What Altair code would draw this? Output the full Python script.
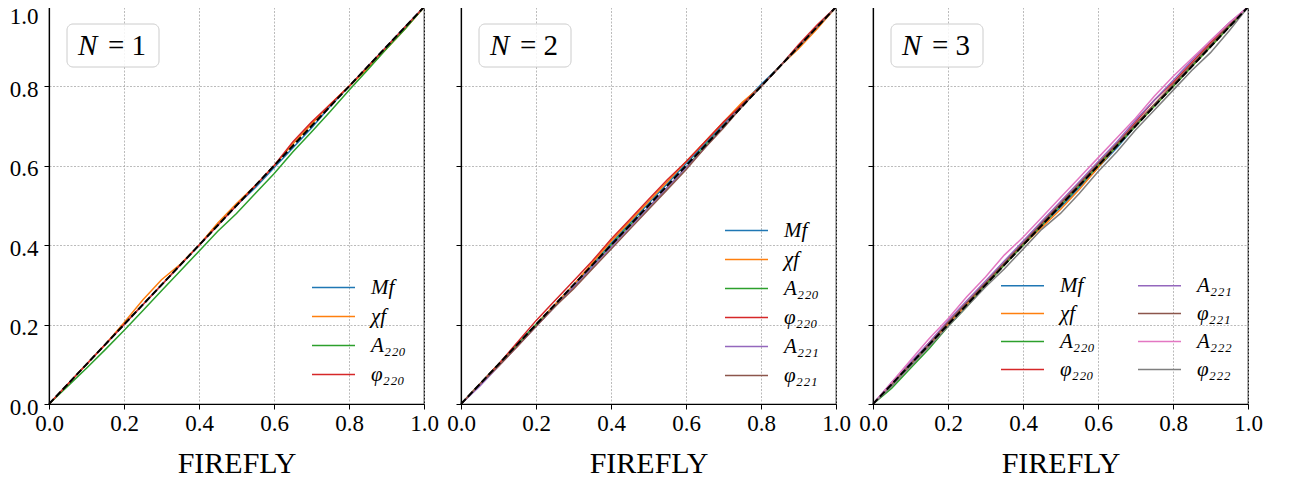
import altair as alt
import pandas as pd

# ---------------- data ----------------
x_grid = [0.00, 0.05, 0.10, 0.15, 0.20, 0.25, 0.30, 0.35, 0.40, 0.45, 0.50,
          0.55, 0.60, 0.65, 0.70, 0.75, 0.80, 0.85, 0.90, 0.95, 1.00]

# N = 1
n1_Mf    = [0, .050, .100, .150, .200, .250, .300, .350, .400, .450, .500, .545, .595, .645, .695, .750, .800, .850, .900, .950, 1]
n1_chi   = [0, .050, .100, .150, .205, .262, .313, .352, .400, .456, .505, .550, .600, .655, .705, .755, .800, .845, .895, .945, 1]
n1_A220  = [0, .045, .090, .137, .185, .235, .285, .335, .385, .435, .480, .530, .580, .635, .685, .737, .790, .842, .895, .945, 1]
n1_phi220= [0, .050, .100, .150, .200, .250, .300, .350, .400, .450, .500, .550, .600, .660, .710, .755, .800, .850, .900, .950, 1]

# N = 2
n2_Mf    = [0, .050, .100, .150, .200, .250, .300, .350, .405, .455, .505, .555, .605, .655, .705, .755, .805, .850, .900, .950, 1]
n2_chi   = [0, .050, .100, .145, .200, .250, .300, .355, .410, .460, .510, .560, .610, .660, .710, .760, .800, .850, .895, .945, 1]
n2_A220  = [0, .050, .100, .150, .200, .245, .295, .345, .400, .450, .495, .545, .595, .650, .700, .750, .800, .850, .900, .950, 1]
n2_phi220= [0, .050, .100, .155, .210, .260, .310, .360, .415, .465, .515, .565, .610, .660, .710, .755, .800, .850, .905, .955, 1]
n2_A221  = [0, .045, .095, .145, .195, .245, .295, .345, .395, .445, .495, .545, .595, .645, .700, .750, .800, .850, .900, .950, 1]
n2_phi221= [0, .050, .095, .145, .195, .245, .290, .340, .390, .440, .490, .540, .590, .645, .695, .750, .800, .850, .900, .950, 1]

# N = 3
n3_Mf    = [0, .050, .100, .150, .200, .250, .300, .350, .400, .450, .495, .545, .595, .645, .700, .750, .800, .850, .900, .950, 1]
n3_chi   = [0, .050, .100, .150, .200, .250, .300, .350, .400, .445, .490, .540, .595, .650, .700, .750, .800, .850, .900, .950, 1]
n3_A220  = [0, .040, .090, .140, .195, .245, .300, .350, .400, .450, .500, .550, .600, .650, .700, .750, .800, .850, .900, .950, 1]
n3_phi220= [0, .050, .100, .155, .205, .255, .305, .355, .405, .455, .505, .555, .605, .655, .710, .765, .810, .860, .910, .955, 1]
n3_A221  = [0, .055, .105, .155, .210, .260, .310, .360, .410, .460, .510, .560, .610, .660, .715, .765, .815, .865, .915, .960, 1]
n3_phi221= [0, .050, .100, .150, .205, .255, .305, .355, .405, .455, .505, .555, .605, .655, .705, .755, .805, .855, .905, .955, 1]
n3_A222  = [0, .055, .110, .165, .215, .270, .320, .375, .420, .470, .520, .570, .620, .670, .720, .775, .825, .870, .915, .960, 1]
n3_phi222= [0, .045, .095, .145, .195, .245, .295, .340, .390, .440, .480, .530, .585, .635, .690, .740, .790, .840, .885, .940, 1]

diag_x = [0.0, 1.0]
diag_y = [0.0, 1.0]

labels = ["Mf", "χf", "A₂₂₀", "φ₂₂₀", "A₂₂₁", "φ₂₂₁", "A₂₂₂", "φ₂₂₂"]
colors = ["#1f77b4", "#ff7f0e", "#2ca02c", "#d62728", "#9467bd", "#8c564b", "#e377c2", "#7f7f7f"]

panels = [
    ("1", [n1_Mf, n1_chi, n1_A220, n1_phi220]),
    ("2", [n2_Mf, n2_chi, n2_A220, n2_phi220, n2_A221, n2_phi221]),
    ("3", [n3_Mf, n3_chi, n3_A220, n3_phi220, n3_A221, n3_phi221, n3_A222, n3_phi222]),
]

FONT = "Liberation Serif"
W, H = 375, 397
TICKS = [0, 0.2, 0.4, 0.6, 0.8, 1.0]


def make_panel(idx, name, series):
    rows = []
    for k, ys in enumerate(series):
        for xv, yv in zip(x_grid, ys):
            rows.append({"x": xv, "y": yv, "s": labels[k], "k": k})
    df = pd.DataFrame(rows)
    n = len(series)
    dom = labels[:n]
    rng = colors[:n]
    if n == 8:
        lx, ly, cols, rp = 139, 268, 2, 6
    elif n == 6:
        lx, ly, cols, rp = 275, 213, 1, 7
    else:
        lx, ly, cols, rp = 274, 270, 1, 7

    xaxis = alt.Axis(values=TICKS, format=".1f", title="FIREFLY", labelPadding=3, titlePadding=13)
    if idx == 0:
        yaxis = alt.Axis(
            values=TICKS, format=".1f", title=None,
            labelOffset={"condition": {"test": "datum.value == 1", "value": 9}, "value": 3},
        )
    else:
        yaxis = alt.Axis(values=TICKS, labels=False, title=None)

    lines = alt.Chart(df).mark_line(strokeWidth=1.5, clip=True).encode(
        x=alt.X("x:Q", scale=alt.Scale(domain=[0, 1], nice=False), axis=xaxis),
        y=alt.Y("y:Q", scale=alt.Scale(domain=[0, 1], nice=False), axis=yaxis),
        color=alt.Color(
            "s:N",
            scale=alt.Scale(domain=dom, range=rng),
            legend=alt.Legend(
                orient="none", legendX=lx, legendY=ly, columns=cols, title=None,
                symbolType="M-4.3,0L4.3,0", symbolSize=100, symbolStrokeWidth=1.5,
                labelFont=FONT, labelFontSize=21, labelFontStyle="italic", labelColor="black",
                labelOffset=27, rowPadding=rp, columnPadding=40, padding=0,
            ),
        ),
        detail="k:N",
        order="k:Q",
    )

    diag_df = pd.DataFrame({"x": diag_x, "y": diag_y})
    diag = alt.Chart(diag_df).mark_line(color="black", strokeWidth=2, strokeDash=[7, 3]).encode(
        x="x:Q", y="y:Q"
    )

    box = alt.Chart(pd.DataFrame({"a": [0]})).mark_rect(
        fill="white", fillOpacity=0.85, stroke="#cccccc", strokeWidth=1, cornerRadius=6
    ).encode(x=alt.value(18), x2=alt.value(110), y=alt.value(17), y2=alt.value(60))

    tN = alt.Chart(pd.DataFrame({"a": [0]})).mark_text(
        text="N", font=FONT, fontSize=29, fontStyle="italic", align="left", baseline="alphabetic", color="black"
    ).encode(x=alt.value(29), y=alt.value(48))
    tEq = alt.Chart(pd.DataFrame({"a": [0]})).mark_text(
        text="= " + name, font=FONT, fontSize=29, align="left", baseline="alphabetic", color="black"
    ).encode(x=alt.value(59), y=alt.value(48))

    return alt.layer(lines, diag, box, tN, tEq).properties(width=W, height=H)


charts = [make_panel(i, nm, s) for i, (nm, s) in enumerate(panels)]

chart = alt.hconcat(*charts, spacing=37, bounds="flush").resolve_scale(
    color="independent"
).resolve_legend(color="independent").properties(
    padding={"left": 0, "top": -6, "right": 5, "bottom": 0}
).configure_view(
    stroke="black", strokeWidth=1.2
).configure_axis(
    grid=True, gridColor="#aaaaaa", gridDash=[2, 1.5], gridWidth=0.8,
    domainColor="black", domainWidth=1.2, tickColor="black", tickSize=5, tickWidth=1,
    labelFont=FONT, labelFontSize=23, labelColor="black", labelPadding=6,
    titleFont=FONT, titleFontSize=30, titleFontWeight="normal", titleColor="black",
    labelFlush=False, labelOverlap=False,
)

chart.save("out.html", embed_options={"renderer": "svg", "actions": False})
